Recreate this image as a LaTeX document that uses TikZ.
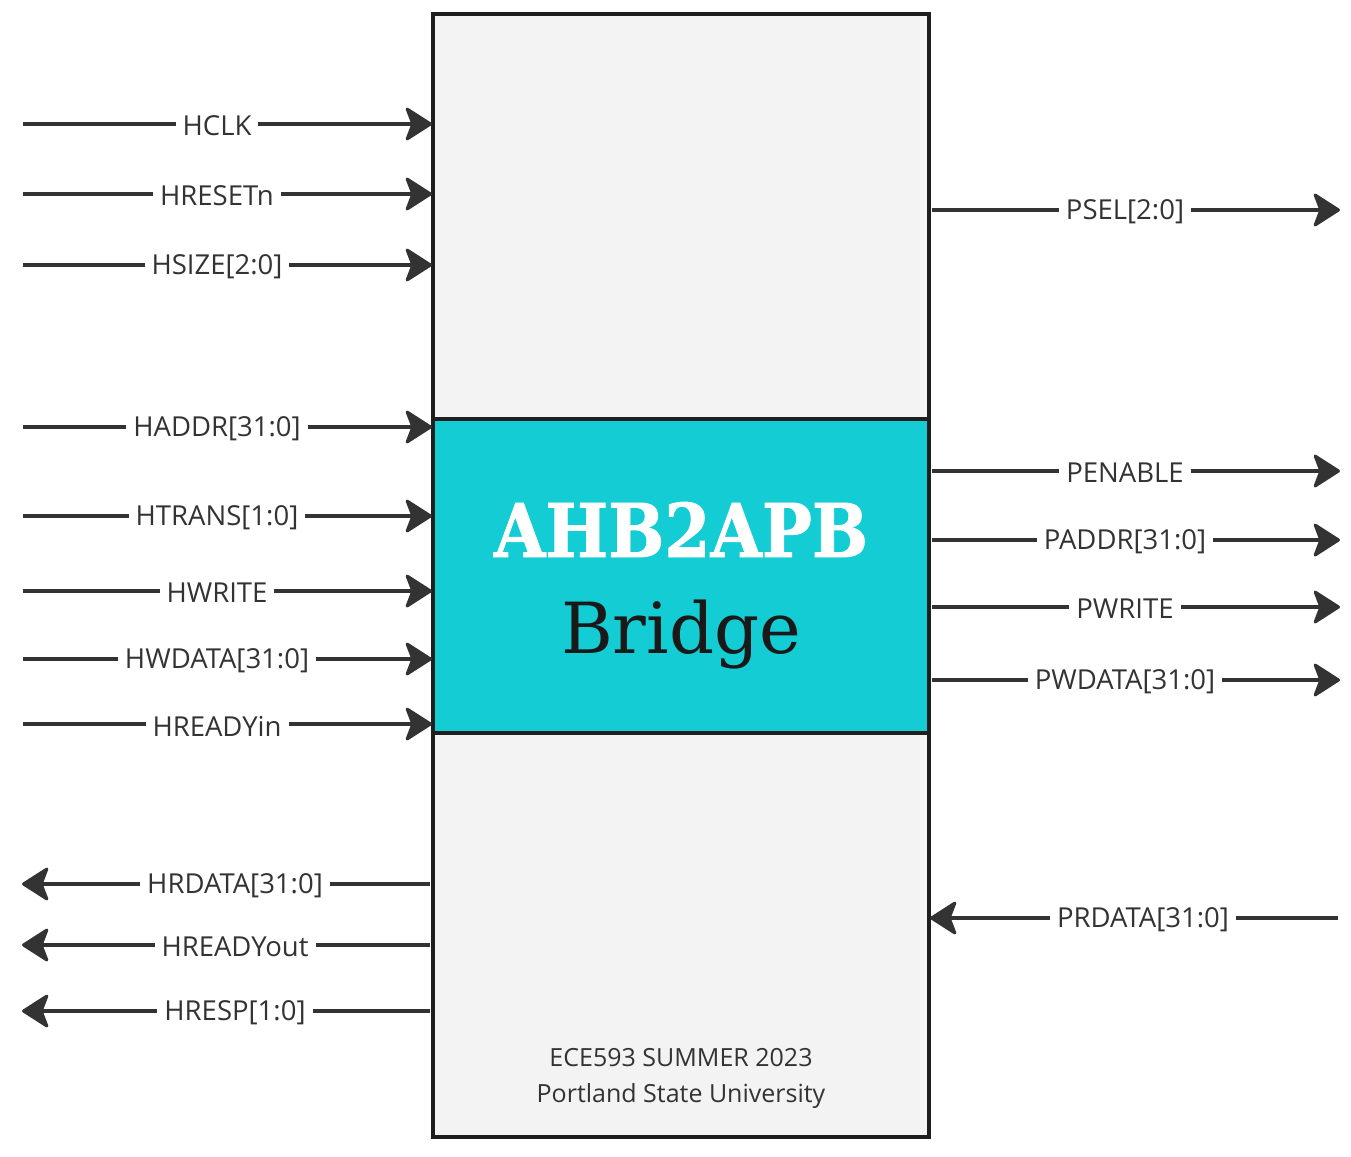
\documentclass[tikz,border=0pt]{standalone}
\usepackage{fontspec}
\setmainfont{Open Sans}
\newfontfamily\slabfont{DejaVu Serif}
\newfontfamily\slabbold[FakeBold=1.2]{DejaVu Serif Bold}
\usetikzlibrary{arrows.meta}
\definecolor{wire}{HTML}{333333}
\definecolor{edge}{HTML}{1E1E1E}
\definecolor{panel}{HTML}{F3F3F3}
\definecolor{teal}{HTML}{14CCD4}
\definecolor{txt}{HTML}{333333}
\tikzset{
  sig/.style={line width=3.3pt, draw=wire},
  tip/.style={-{Stealth[length=29pt,width=37pt,inset=7pt,round,line width=3pt]}},
  lbl/.style={fill=white, text=txt, font=\fontsize{27.5}{32}\selectfont, inner xsep=7pt, inner ysep=2pt, anchor=center},
}
\begin{document}
\begin{tikzpicture}[x=1pt,y=-1pt]
\useasboundingbox (0,0) rectangle (1351,1156);
% body
\node[draw=edge, line width=3.5pt, fill=panel, minimum width=496pt, minimum height=1123pt, inner sep=0pt] (box) at (681,575.5) {};
\node[draw=edge, line width=3.5pt, fill=teal, minimum width=496pt, minimum height=314pt, inner sep=0pt] (core) at (681,576) {};
\node[text=white, inner sep=0pt, anchor=base] (t1) at (681,557) {\resizebox{374pt}{55pt}{\slabbold AHB2APB}};
\node[text=black!90, inner sep=0pt, anchor=base] (t2) at (681,653) {\resizebox{240pt}{!}{\slabfont Bridge}};
\node[text=txt, font=\fontsize{25}{36}\selectfont, align=center, inner sep=0pt] (foot) at (681,1078) {ECE593 SUMMER 2023\\Portland State University};
% left inputs
\foreach \nm/\yy/\lab in {hclk/124/HCLK, hrst/194/HRESETn, hsize/265/{HSIZE[2:0]}, haddr/427/{HADDR[31:0]}, htrans/516/{HTRANS[1:0]}, hwrite/591/HWRITE, hwdata/659/{HWDATA[31:0]}, hrdyin/724/HREADYin}{
  \coordinate (\nm s) at (23,\yy);
  \coordinate (\nm e) at (432,\yy);
  \draw[sig,tip] (\nm s) -- (\nm e);
  \node[lbl] (\nm l) at (217,\yy+2) {\lab};
}
% left outputs
\foreach \nm/\yy/\lab in {hrdata/884/{HRDATA[31:0]}, hrdyout/945/HREADYout, hresp/1011/{HRESP[1:0]}}{
  \coordinate (\nm s) at (430,\yy);
  \coordinate (\nm e) at (22,\yy);
  \draw[sig,tip] (\nm s) -- (\nm e);
  \node[lbl] (\nm l) at (235,\yy+2) {\lab};
}
% right outputs
\foreach \nm/\yy/\lab in {psel/210/{PSEL[2:0]}, pen/471/PENABLE, paddr/540/{PADDR[31:0]}, pwrite/607/PWRITE, pwdata/680/{PWDATA[31:0]}}{
  \coordinate (\nm s) at (932,\yy);
  \coordinate (\nm e) at (1340,\yy);
  \draw[sig,tip] (\nm s) -- (\nm e);
  \node[lbl] (\nm l) at (1125,\yy+2) {\lab};
}
% right input
\coordinate (prs) at (1338,918);
\coordinate (pre) at (930,918);
\draw[sig,tip] (prs) -- (pre);
\node[lbl] (prl) at (1143,920) {PRDATA[31:0]};
\end{tikzpicture}
\end{document}
